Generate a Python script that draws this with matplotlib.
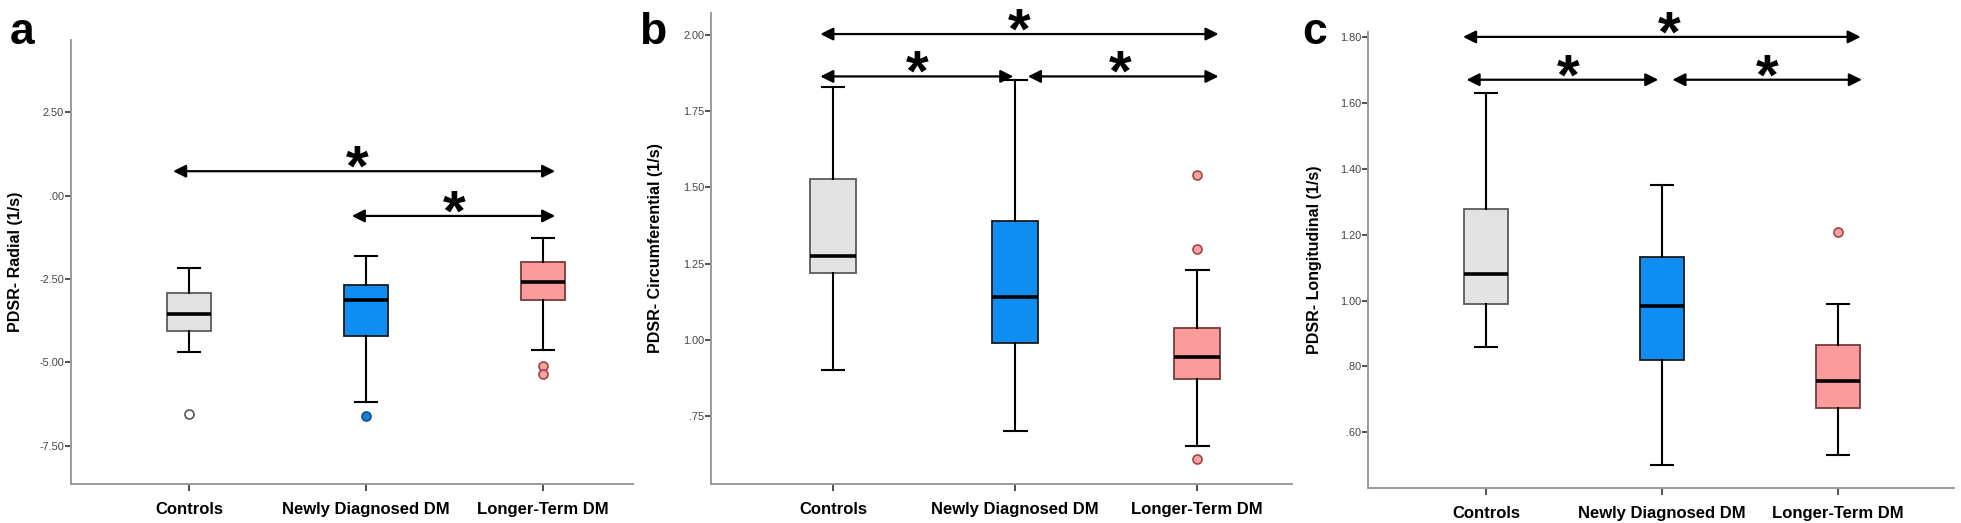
import numpy as np
import matplotlib
matplotlib.use("Agg")
import matplotlib.pyplot as plt

plt.rcParams['font.family'] = ['Liberation Sans', 'DejaVu Sans']

# groups
groups = ['Controls', 'Newly Diagnosed DM', 'Longer-Term DM']
box_face = ['#e3e3e3', '#0f8df2', '#fa9c9c']
box_edge = ['#5a5a5a', '#1a1a1a', '#7a3a3a']
flier_face = ['white', '#1280d8', '#f4a3a3']
flier_edge = ['#555555', '#1a4f80', '#a04545']

# panel a - radial
a_whislo = [-4.70, -6.19, -4.63]
a_q1 = [-4.05, -4.22, -3.12]
a_med = [-3.55, -3.13, -2.58]
a_q3 = [-2.93, -2.68, -2.00]
a_whishi = [-2.18, -1.80, -1.27]
a_fliers = [[-6.53], [-6.59], [-5.12, -5.35]]
a_ticks = [2.5, 0.0, -2.5, -5.0, -7.5]
a_ticklabels = ['2.50', '.00', '-2.50', '-5.00', '-7.50']

# panel b - circumferential
b_whislo = [0.901, 0.701, 0.651]
b_q1 = [1.220, 0.991, 0.871]
b_med = [1.275, 1.140, 0.945]
b_q3 = [1.528, 1.390, 1.038]
b_whishi = [1.830, 1.851, 1.230]
b_fliers = [[], [], [1.539, 1.299, 0.610]]
b_ticks = [2.0, 1.75, 1.5, 1.25, 1.0, 0.75]
b_ticklabels = ['2.00', '1.75', '1.50', '1.25', '1.00', '.75']

# panel c - longitudinal
c_whislo = [0.860, 0.501, 0.531]
c_q1 = [0.990, 0.820, 0.675]
c_med = [1.081, 0.982, 0.756]
c_q3 = [1.278, 1.132, 0.864]
c_whishi = [1.629, 1.350, 0.990]
c_fliers = [[], [], [1.209]]
c_ticks = [1.8, 1.6, 1.4, 1.2, 1.0, 0.8, 0.6]
c_ticklabels = ['1.80', '1.60', '1.40', '1.20', '1.00', '.80', '.60']

# significance arrows: (x start, x end, y) and star x
a_arrows = [(0.91, 3.07, 0.73), (1.92, 3.07, -0.61)]
a_stars = [1.95, 2.50]
b_arrows = [(0.93, 3.117, 2.003), (0.93, 1.99, 1.864), (2.07, 3.117, 1.864)]
b_stars = [2.02, 1.46, 2.58]
c_arrows = [(0.87, 3.13, 1.80), (0.89, 1.98, 1.67), (2.06, 3.137, 1.67)]
c_stars = [2.04, 1.47, 2.60]

fig = plt.figure(figsize=(19.61, 5.23), dpi=100)

panels = [
    dict(letter='a', pos=[0.0362, 0.0746, 0.2866, 0.8489], ylim=(-8.64, 4.66), xlim=(0.333, 3.51),
         ylabel='PDSR- Radial (1/s)', lab_x=-0.085, letter_x=0.005,
         stats=(a_whislo, a_q1, a_med, a_q3, a_whishi, a_fliers),
         ticks=a_ticks, ticklabels=a_ticklabels, arrows=a_arrows, stars=a_stars),
    dict(letter='b', pos=[0.3626, 0.0746, 0.2962, 0.9005], ylim=(0.527, 2.072), xlim=(0.33, 3.52),
         ylabel='PDSR- Circumferential (1/s)', lab_x=-0.083, letter_x=0.326,
         stats=(b_whislo, b_q1, b_med, b_q3, b_whishi, b_fliers),
         ticks=b_ticks, ticklabels=b_ticklabels, arrows=b_arrows, stars=b_stars),
    dict(letter='c', pos=[0.6976, 0.0669, 0.2988, 0.8720], ylim=(0.431, 1.815), xlim=(0.33, 3.66),
         ylabel='PDSR- Longitudinal (1/s)', lab_x=-0.078, letter_x=0.664,
         stats=(c_whislo, c_q1, c_med, c_q3, c_whishi, c_fliers),
         ticks=c_ticks, ticklabels=c_ticklabels, arrows=c_arrows, stars=c_stars),
]

for p in panels:
    ax = fig.add_axes(p['pos'])
    whislo, q1, med, q3, whishi, fliers = p['stats']
    stats = []
    for i, g in enumerate(groups):
        stats.append(dict(label=g, whislo=whislo[i], q1=q1[i], med=med[i], q3=q3[i],
                          whishi=whishi[i], fliers=fliers[i]))
    bp = ax.bxp(stats, positions=[1, 2, 3], widths=0.25, patch_artist=True,
                boxprops=dict(linewidth=1.3),
                medianprops=dict(color='black', linewidth=2.6),
                whiskerprops=dict(color='black', linewidth=1.5),
                capprops=dict(color='black', linewidth=1.5),
                flierprops=dict(marker='o', markersize=6.5, markeredgewidth=1.2))
    for i, box in enumerate(bp['boxes']):
        box.set_facecolor(box_face[i])
        box.set_edgecolor(box_edge[i])
    for i, fl in enumerate(bp['fliers']):
        fl.set_markerfacecolor(flier_face[i])
        fl.set_markeredgecolor(flier_edge[i])

    ax.set_xlim(*p['xlim'])
    ax.set_ylim(*p['ylim'])
    ax.set_yticks(p['ticks'])
    ax.set_yticklabels(p['ticklabels'], fontsize=7.8, color='#444444')
    ax.set_xticks([1, 2, 3])
    ax.set_xticklabels(groups, fontsize=12, fontweight='bold')
    ax.tick_params(axis='y', length=4, width=1.2, color='#333333', pad=1)
    ax.tick_params(axis='x', length=5, width=1.2, color='#333333', pad=8)
    for s in ['top', 'right']:
        ax.spines[s].set_visible(False)
    for s in ['left', 'bottom']:
        ax.spines[s].set_color('#9a9a9a')
        ax.spines[s].set_linewidth(1.4)
    ax.set_ylabel(p['ylabel'], fontsize=11.5, fontweight='bold')
    ax.yaxis.set_label_coords(p['lab_x'], 0.5)

    for x0, x1, y in p['arrows']:
        ax.annotate('', xy=(x1, y), xytext=(x0, y), annotation_clip=False,
                    arrowprops=dict(arrowstyle='<|-|>', color='black', lw=1.6,
                                    mutation_scale=19, shrinkA=0, shrinkB=0))
    # the asterisk glyph sits high in its box, so anchor on the baseline and pull it down
    for (x0, x1, y), sx in zip(p['arrows'], p['stars']):
        ax.annotate('*', xy=(sx, y), xytext=(0, -10.5), textcoords='offset points',
                    ha='center', va='baseline', fontsize=42, fontweight='bold',
                    annotation_clip=False, clip_on=False)

    fig.text(p['letter_x'], 1 - 44 / 523, p['letter'], fontsize=32, fontweight='bold',
             ha='left', va='baseline')

fig.savefig('out.png', dpi=100)
